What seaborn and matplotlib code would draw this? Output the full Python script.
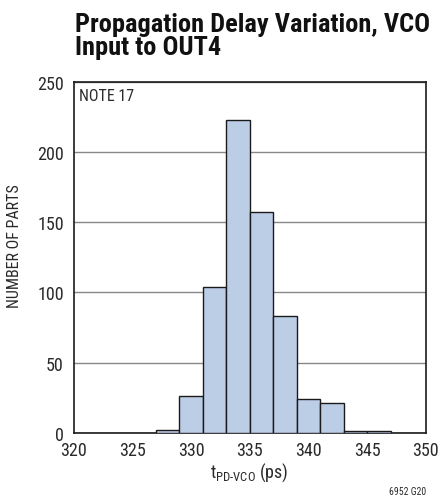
import numpy as np
import pandas as pd
import matplotlib.pyplot as plt
import seaborn as sns

# ============================
#  DATA
# ============================
bin_edges = [327, 329, 331, 333, 335, 337, 339, 341, 343, 345, 347]
counts = [2, 26, 104, 223, 157, 83, 24, 21, 1, 1]
x_ticks = [320, 325, 330, 335, 340, 345, 350]
y_ticks = [0, 50, 100, 150, 200, 250]

centers = [(a + b) / 2 for a, b in zip(bin_edges[:-1], bin_edges[1:])]
df = pd.DataFrame({"delay": centers, "parts": counts})

# ============================
#  STYLE
# ============================
sns.set_style("white")
plt.rcParams['font.family'] = ['Roboto Condensed', 'DejaVu Sans']
plt.rcParams['mathtext.fontset'] = 'custom'
plt.rcParams['mathtext.rm'] = 'Roboto Condensed'
plt.rcParams['mathtext.it'] = 'Roboto Condensed'

text_col = "#2a2a2a"

fig = plt.figure(figsize=(4.39, 5.02), dpi=100)
ax = fig.add_axes([0.1675, 0.136, 0.8025, 0.699])

sns.histplot(data=df, x="delay", weights="parts", bins=bin_edges,
             color="#bccde6", edgecolor="#1a1a1a", linewidth=1.0,
             alpha=1.0, ax=ax, zorder=3)

ax.set_xlim(320, 350)
ax.set_ylim(0, 250)
ax.set_xticks(x_ticks)
ax.set_yticks(y_ticks)
ax.tick_params(length=0, labelsize=13, colors=text_col)
ax.tick_params(axis="y", pad=7)
ax.tick_params(axis="x", pad=6)
ax.yaxis.grid(True, color="#888888", linewidth=1.0, zorder=0)
ax.xaxis.grid(False)
ax.set_axisbelow(True)
for s in ax.spines.values():
    s.set_color("#1a1a1a")
    s.set_linewidth(1.2)

ax.set_ylabel("NUMBER OF PARTS", fontsize=11.5, color=text_col)
ax.yaxis.set_label_coords(-0.146, 0.536)
ax.set_xlabel(r"t$_{\mathrm{PD\text{-}VCO}}$ (ps)", fontsize=13, color=text_col, labelpad=1)

ax.text(0.015, 0.982, "NOTE 17", transform=ax.transAxes, fontsize=11.5,
        color=text_col, va="top", ha="left")

fig.text(0.171, 0.975, "Propagation Delay Variation, VCO\nInput to OUT4",
         fontsize=19, fontweight="bold", color="#111111",
         ha="left", va="top", linespacing=0.98)

fig.text(0.970, 0.010, "6952 G20", fontsize=7, color=text_col,
         ha="right", va="bottom")

fig.savefig("out.png", dpi=100)
